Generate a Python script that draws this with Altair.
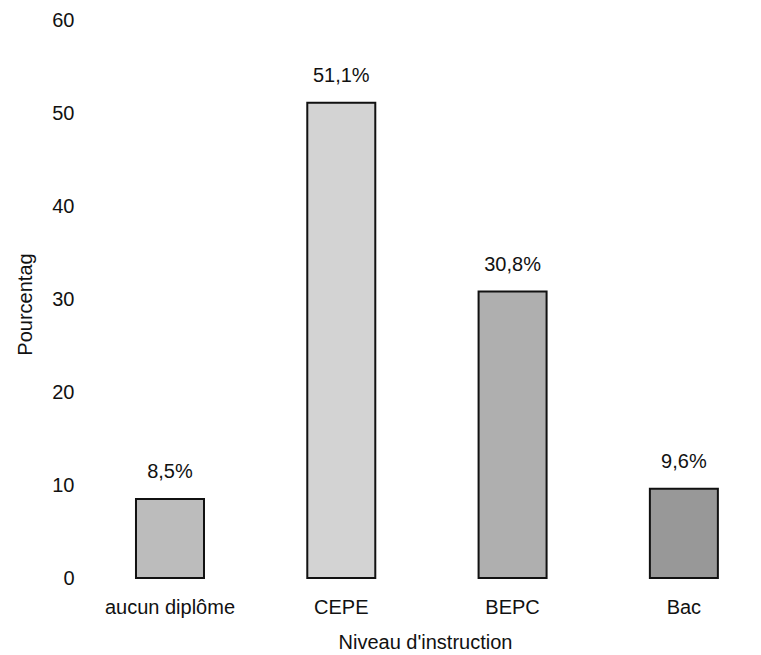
import altair as alt
import pandas as pd

# Niveau d'instruction: share of respondents (%)
niveaux = ["aucun diplôme", "CEPE", "BEPC", "Bac"]
pourcentages = [8.5, 51.1, 30.8, 9.6]
teintes = ["#bcbcbc", "#d3d3d3", "#afafaf", "#989898"]

df = pd.DataFrame({"niveau": niveaux, "pct": pourcentages, "teinte": teintes})
df["etiquette"] = df["pct"].map(lambda v: f"{v:.1f}".replace(".", ",") + "%")

FONT = "Liberation Sans"
INK = "#111111"
W, H = 666, 558

x_enc = alt.X(
    "niveau:N",
    sort=niveaux,
    title="Niveau d'instruction",
    scale=alt.Scale(paddingInner=0.603, paddingOuter=0.2455, align=0.523),
    axis=alt.Axis(
        labelAngle=0, domain=False, ticks=False, tickSize=0,
        labelPadding=35, labelBaseline="alphabetic",
        labelFont=FONT, labelFontSize=20, labelColor=INK,
        titleFont=FONT, titleFontSize=20, titleFontWeight="normal",
        titleColor=INK, titleX=333, titleY=70,
        titleAlign="center", titleBaseline="alphabetic",
    ),
)
y_enc = alt.Y(
    "pct:Q",
    title="Pourcentag",
    scale=alt.Scale(domain=[0, 60], nice=False),
    axis=alt.Axis(
        values=[0, 10, 20, 30, 40, 50, 60], grid=False, domain=False,
        ticks=False, tickSize=0, labelPadding=18, labelFont=FONT,
        labelFontSize=20, labelColor=INK, titleFont=FONT, titleFontSize=20,
        titleFontWeight="normal", titleColor=INK, titleAngle=270,
        titleX=-67, titleY=284, titleAlign="center", titleBaseline="middle",
    ),
)

bars = alt.Chart(df).mark_bar(stroke=INK, strokeWidth=2).encode(
    x=x_enc,
    y=y_enc,
    fill=alt.Fill("teinte:N", scale=None),
)

labels = alt.Chart(df).mark_text(
    baseline="alphabetic", dy=-21, font=FONT, fontSize=20, color=INK
).encode(
    x=alt.X("niveau:N", sort=niveaux),
    y="pct:Q",
    text="etiquette:N",
)

chart = (
    alt.layer(bars, labels)
    .properties(
        width=W,
        height=H,
        background="white",
        autosize=alt.AutoSizeParams(type="none"),
        padding={"left": 92, "top": 20, "right": 3, "bottom": 77},
    )
    .configure_view(stroke="transparent", strokeWidth=0)
    .configure_axis(grid=False)
)

chart.save("out.html", embed_options={"renderer": "svg", "actions": False})
